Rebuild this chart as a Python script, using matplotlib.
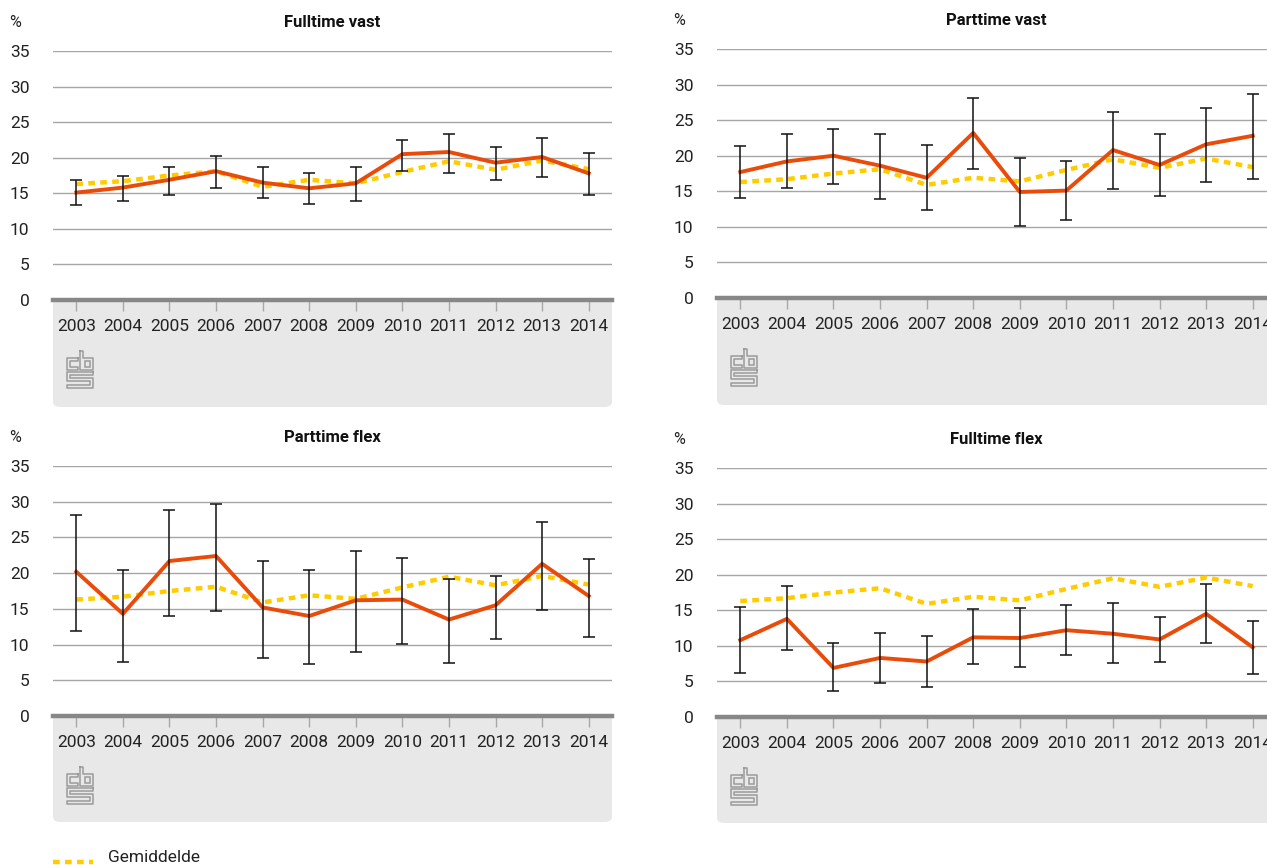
import numpy as np
import matplotlib
matplotlib.use("Agg")
import matplotlib.pyplot as plt
from matplotlib.patches import FancyBboxPatch, Rectangle
from matplotlib.lines import Line2D

plt.rcParams['font.family'] = ['Roboto', 'DejaVu Sans']

# Colors:
red_color = "#e94c0a"
avg_color = "#ffcc00"
grid_color = "#a6a6a6"
axis_color = "#878787"
box_color = "#e8e8e8"
logo_color = "#9a9a9a"

years = ["2003", "2004", "2005", "2006", "2007", "2008",
         "2009", "2010", "2011", "2012", "2013", "2014"]

# Gemiddelde (same in every panel)
average = [16.3, 16.7, 17.5, 18.1, 15.9, 16.9, 16.4, 18.0, 19.5, 18.3, 19.6, 18.4]

# Fulltime vast
ftv_val = [15.1, 15.8, 16.9, 18.1, 16.5, 15.7, 16.4, 20.5, 20.8, 19.3, 20.1, 17.8]
ftv_lo = [13.3, 13.9, 14.7, 15.8, 14.3, 13.5, 13.9, 18.1, 17.9, 16.9, 17.3, 14.8]
ftv_hi = [16.8, 17.5, 18.7, 20.3, 18.7, 17.8, 18.7, 22.5, 23.4, 21.5, 22.8, 20.6]

# Parttime vast
ptv_val = [17.7, 19.2, 20.0, 18.6, 16.9, 23.2, 14.9, 15.1, 20.8, 18.7, 21.6, 22.8]
ptv_lo = [14.0, 15.4, 16.0, 13.9, 12.3, 18.1, 10.1, 10.9, 15.3, 14.3, 16.3, 16.7]
ptv_hi = [21.4, 23.0, 23.8, 23.1, 21.5, 28.1, 19.7, 19.3, 26.2, 23.1, 26.7, 28.7]

# Parttime flex
ptf_val = [20.2, 14.3, 21.7, 22.4, 15.2, 14.0, 16.2, 16.3, 13.5, 15.5, 21.3, 16.8]
ptf_lo = [11.9, 7.6, 14.0, 14.7, 8.1, 7.3, 8.9, 10.1, 7.4, 10.8, 14.8, 11.1]
ptf_hi = [28.1, 20.4, 28.9, 29.7, 21.7, 20.4, 23.1, 22.1, 19.2, 19.6, 27.1, 22.0]

# Fulltime flex
ftf_val = [10.8, 13.8, 6.9, 8.3, 7.8, 11.2, 11.1, 12.2, 11.7, 10.9, 14.5, 9.8]
ftf_lo = [6.2, 9.4, 3.6, 4.8, 4.2, 7.5, 7.0, 8.7, 7.6, 7.8, 10.4, 6.0]
ftf_hi = [15.4, 18.4, 10.4, 11.8, 11.4, 15.2, 15.3, 15.8, 16.0, 14.1, 18.7, 13.5]

W, H = 1267, 865
fig = plt.figure(figsize=(W / 100, H / 100), dpi=100)


def px_box(x0, y_top, x1, y_bot):
    # pixel coords (y downward) -> figure fraction rect
    return [x0 / W, 1 - y_bot / H, (x1 - x0) / W, (y_bot - y_top) / H]


def draw_logo(x, y):
    # rough cbs logo, x/y = top-left corner in pixels
    def rect(rx, ry, rw, rh):
        fig.add_artist(Rectangle(((x + rx) / W, 1 - (y + ry + rh) / H), rw / W, rh / H,
                                 transform=fig.transFigure, fill=False, ec=logo_color, lw=1.1))

    def line(pts):
        xs = [(x + p[0]) / W for p in pts]
        ys = [1 - (y + p[1]) / H for p in pts]
        fig.add_artist(Line2D(xs, ys, transform=fig.transFigure, color=logo_color, lw=1.1))

    # c
    line([(11, 7), (0, 7), (0, 19), (11, 19), (11, 16), (3, 16), (3, 10), (11, 10), (11, 7)])
    # b
    line([(13, 0), (13, 19), (26, 19), (26, 7), (16, 7), (16, 0), (13, 0)])
    rect(18, 10, 5, 6)
    # S
    line([(26, 21), (0, 21), (0, 30), (23, 30), (23, 34), (0, 34), (0, 37), (26, 37), (26, 27), (3, 27),
          (3, 24), (26, 24), (26, 21)])


def draw_panel(rect_px, title, val, lo, hi, box_px):
    # grey background box below the axis
    bx0, by0, bx1, by1 = box_px
    fig.add_artist(FancyBboxPatch((bx0 / W, 1 - by1 / H), (bx1 - bx0) / W, (by1 - by0) / H,
                                  boxstyle="round,pad=0,rounding_size=0.006", transform=fig.transFigure,
                                  fc=box_color, ec="none", zorder=-1))

    ax = fig.add_axes(px_box(*rect_px))
    x = np.arange(len(years))
    ax.plot(x, average, color=avg_color, lw=3.2, linestyle=(0, (1.5, 1.2)), dash_capstyle="butt", zorder=2)
    ax.plot(x, val, color=red_color, lw=2.8, zorder=3)
    yerr = [np.array(val) - np.array(lo), np.array(hi) - np.array(val)]
    ax.errorbar(x, val, yerr=yerr, fmt="none", ecolor="#111111", elinewidth=1.1, capsize=4, capthick=1.1,
                zorder=4)

    ax.set_xlim(-0.5, len(years) - 0.5)
    ax.set_ylim(0, 35)
    ax.set_yticks(range(0, 36, 5))
    ax.set_xticks(x)
    ax.set_xticklabels(years)
    ax.grid(axis="y", color=grid_color, lw=1.0)
    ax.set_axisbelow(True)
    for side in ["top", "right", "left"]:
        ax.spines[side].set_visible(False)
    ax.spines["bottom"].set_color(axis_color)
    ax.spines["bottom"].set_linewidth(3.2)
    ax.spines["bottom"].set_zorder(5)
    ax.tick_params(axis="y", length=0, pad=17, labelsize=12.5, labelcolor="#222222")
    ax.tick_params(axis="x", length=8, width=1, color="#a8a8a8", pad=6, labelsize=12.5, labelcolor="#222222")
    ax.set_title(title, fontsize=12, fontweight="bold", pad=17, color="#111111")
    ax.text(-0.079, 1.115, "%", transform=ax.transAxes, fontsize=11.5, color="#222222", va="center")
    return ax


draw_panel((53, 51, 612, 300), "Fulltime vast", ftv_val, ftv_lo, ftv_hi, (53, 285, 612, 407))
draw_panel((717, 49, 1276, 298), "Parttime vast", ptv_val, ptv_lo, ptv_hi, (717, 283, 1290, 405))
draw_panel((53, 466, 612, 716), "Parttime flex", ptf_val, ptf_lo, ptf_hi, (53, 700, 612, 822))
draw_panel((717, 468, 1276, 717), "Fulltime flex", ftf_val, ftf_lo, ftf_hi, (717, 702, 1290, 823))

draw_logo(67, 351)
draw_logo(731, 349)
draw_logo(67, 767)
draw_logo(731, 768)

# Legend
fig.add_artist(Line2D([53 / W, 93 / W], [1 - 862 / H, 1 - 862 / H], transform=fig.transFigure,
                      color=avg_color, lw=3.2, linestyle=(0, (1.5, 1.2)), dash_capstyle="butt"))
fig.text(108 / W, 1 - 857 / H, "Gemiddelde", fontsize=12.5, color="#222222", va="center")

fig.savefig("out.png", dpi=100)
